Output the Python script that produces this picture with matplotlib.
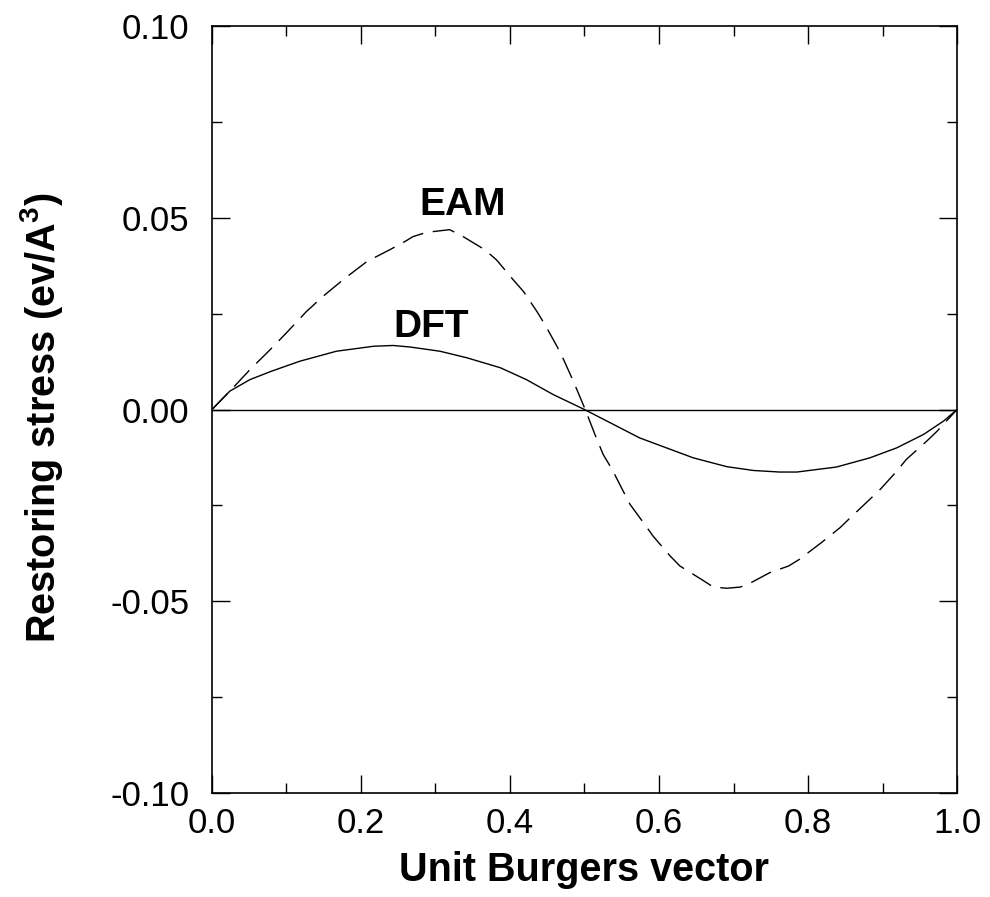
import matplotlib
matplotlib.use('Agg')
import matplotlib.pyplot as plt
from matplotlib.ticker import MultipleLocator

plt.rcParams['font.family'] = ['Liberation Sans', 'DejaVu Sans']
plt.rcParams['mathtext.fontset'] = 'custom'
plt.rcParams['mathtext.rm'] = 'Liberation Sans'
plt.rcParams['mathtext.bf'] = 'Liberation Sans:bold'

# ====== data ======
eam_x = [0.0, 0.026, 0.051, 0.076, 0.100, 0.127, 0.152, 0.179, 0.208, 0.239, 0.258,
         0.270, 0.288, 0.319, 0.337, 0.366, 0.382, 0.404, 0.418, 0.436, 0.447, 0.463,
         0.472, 0.485, 0.501, 0.514, 0.525, 0.537, 0.552, 0.561, 0.581, 0.592, 0.615,
         0.628, 0.657, 0.673, 0.691, 0.709, 0.724, 0.749, 0.774, 0.789, 0.803, 0.818,
         0.843, 0.859, 0.883, 0.897, 0.919, 0.932, 0.959, 0.973, 1.0]
eam_y = [0.0, 0.0052, 0.0104, 0.0152, 0.0200, 0.0256, 0.0300, 0.0343, 0.0386, 0.0417, 0.0437,
         0.0451, 0.0462, 0.0469, 0.0451, 0.0417, 0.0390, 0.0339, 0.0308, 0.0256, 0.0221, 0.0165,
         0.0130, 0.0074, 0.0, -0.0065, -0.0117, -0.0156, -0.0213, -0.0247, -0.0300, -0.0330, -0.0382,
         -0.0408, -0.0443, -0.0463, -0.0466, -0.0463, -0.0451, -0.0425, -0.0408, -0.0390, -0.0369, -0.0347,
         -0.0308, -0.0278, -0.0234, -0.0208, -0.0161, -0.0130, -0.0083, -0.0057, 0.0]

dft_x = [0.0, 0.024, 0.051, 0.080, 0.118, 0.167, 0.217, 0.243, 0.266, 0.306, 0.342,
         0.387, 0.422, 0.458, 0.5, 0.539, 0.574, 0.610, 0.646, 0.691, 0.727, 0.762,
         0.785, 0.838, 0.883, 0.919, 0.955, 0.982, 1.0]
dft_y = [0.0, 0.0048, 0.0078, 0.0100, 0.0126, 0.0152, 0.0165, 0.0167, 0.0163, 0.0152, 0.0135,
         0.0109, 0.0078, 0.0039, 0.0, -0.0039, -0.0074, -0.0100, -0.0126, -0.0149, -0.0159, -0.0163,
         -0.0163, -0.0150, -0.0126, -0.0100, -0.0065, -0.0030, 0.0]

fig = plt.figure(figsize=(9.9, 8.97), dpi=100)
ax = fig.add_axes([0.2141, 0.1159, 0.7526, 0.8551])

ax.axhline(0, color='black', lw=1.0)
ax.plot(eam_x, eam_y, color='black', lw=1.0, dashes=(16, 7))
ax.plot(dft_x, dft_y, color='black', lw=1.0)

ax.text(0.336, 0.0508, 'EAM', fontsize=28, fontweight='bold', ha='center', va='baseline')
ax.text(0.294, 0.0190, 'DFT', fontsize=28, fontweight='bold', ha='center', va='baseline')

ax.set_xlim(0, 1.0)
ax.set_ylim(-0.10, 0.10)
ax.xaxis.set_major_locator(MultipleLocator(0.2))
ax.xaxis.set_minor_locator(MultipleLocator(0.1))
ax.yaxis.set_major_locator(MultipleLocator(0.05))
ax.yaxis.set_minor_locator(MultipleLocator(0.025))
ax.xaxis.set_major_formatter(lambda v, p: f'{v:.1f}')
ax.yaxis.set_major_formatter(lambda v, p: f'{v:.2f}')

ax.tick_params(which='both', direction='in', top=True, right=True, width=1.0,
               labelsize=25)
ax.tick_params(which='major', length=13)
ax.tick_params(which='minor', length=7)
ax.tick_params(axis='x', which='major', pad=10)
ax.tick_params(axis='y', which='major', pad=16)
for s in ax.spines.values():
    s.set_linewidth(1.2)

ax.set_xlabel('Unit Burgers vector', fontsize=28.5, fontweight='bold', labelpad=8)
ax.set_ylabel(r'Restoring stress (ev/A$^{\mathbf{3}}$)', fontsize=28.5, fontweight='bold')
ax.yaxis.set_label_coords(-0.197, 0.49)

fig.savefig('out.png', dpi=100)
